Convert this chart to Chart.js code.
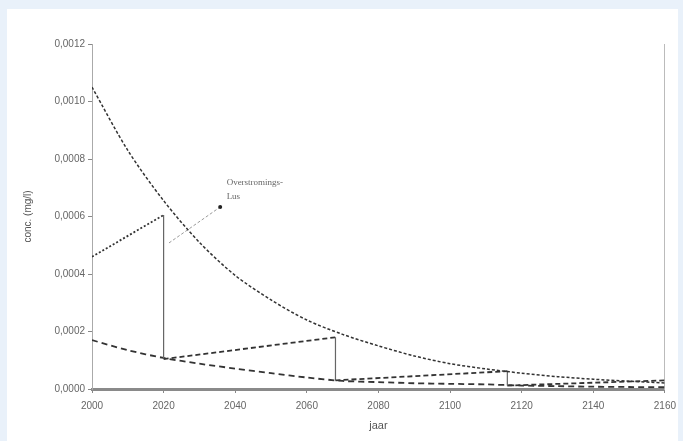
<!DOCTYPE html>
<html lang="nl">
<head>
  <meta charset="UTF-8">
  <title>Concentratie per jaar</title>
  <style>
    /* light blue page with a white card behind the chart */
    body {
      margin: 0;
      background: #e9f1fa;
      width: 683px;
      height: 441px;
      overflow: hidden;
      position: relative;
    }
    .card {
      position: absolute;
      left: 7px;
      top: 9px;
      width: 671px;
      height: 440px;
      background: #ffffff;
    }
    #concChart {
      position: absolute;
      left: 0;
      top: 0;
    }
  </style>
</head>
<body>
  <div class="card"></div>
  <canvas id="concChart" width="683" height="441"></canvas>

  <script src="https://cdn.jsdelivr.net/npm/chart.js"></script>
  <script>
    // upper decay curve
    const upperYears = [2000, 2010, 2020, 2030, 2040, 2050, 2060, 2070, 2080, 2090, 2100, 2110, 2120, 2130, 2140, 2150, 2160];
    const upperConc = [0.00105, 0.00083, 0.000655, 0.00051, 0.000395, 0.00031, 0.00024, 0.00019, 0.00015, 0.000115, 0.000088, 0.00007, 0.000055, 0.000043, 0.000034, 0.000027, 0.000021];

    // sawtooth (build-up and removal)
    const sawYears = [2000, 2020, 2020, 2068, 2068, 2116, 2116, 2160];
    const sawConc = [0.00046, 0.000605, 0.000104, 0.00018, 0.00003, 0.000062, 0.000012, 0.00003];

    // lower decay curve
    const lowerYears = [2000, 2010, 2020, 2030, 2040, 2050, 2060, 2070, 2080, 2090, 2100, 2110, 2120, 2130, 2140, 2150, 2160];
    const lowerConc = [0.00017, 0.000135, 0.000108, 0.000088, 0.000071, 0.000055, 0.00004, 0.000028, 0.000024, 0.00002, 0.000018, 0.000016, 0.000012, 0.00001, 0.000008, 0.000007, 0.000006];

    // annotation pointer (data units)
    const pointerYears = [2021.5, 2035.8];
    const pointerConc = [0.000508, 0.000633];
    const noteLines = ['Overstromings-', 'Lus'];
    const noteAt = { x: 2037.6, y: 0.000717, y2: 0.000668 };

    const toPoints = (xs, ys) => xs.map((x, i) => ({ x: x, y: ys[i] }));
    const fmt = v => v.toFixed(4).replace('.', ',');
    const font = { family: 'Liberation Sans', size: 10 };

    const notePlugin = {
      id: 'note',
      afterDatasetsDraw(chart) {
        const { ctx, scales } = chart;
        ctx.save();
        ctx.font = '9px "Liberation Serif"';
        ctx.fillStyle = '#666';
        ctx.textBaseline = 'middle';
        const x = scales.x.getPixelForValue(noteAt.x);
        ctx.fillText(noteLines[0], x, scales.y.getPixelForValue(noteAt.y));
        ctx.fillText(noteLines[1], x, scales.y.getPixelForValue(noteAt.y2));
        ctx.restore();
      }
    };

    new Chart(document.getElementById('concChart'), {
      type: 'line',
      data: {
        datasets: [
          {
            data: toPoints(upperYears, upperConc),
            borderColor: '#333',
            borderWidth: 1.5,
            borderDash: [3, 2],
            pointRadius: 0,
            tension: 0.3,
          },
          {
            data: toPoints(sawYears, sawConc),
            borderColor: '#333',
            borderWidth: 1.8,
            pointRadius: 0,
            segment: {
              borderDash: c => c.p0.parsed.x === c.p1.parsed.x ? [] : (c.p0DataIndex === 0 ? [2, 2] : [5, 3]),
              borderColor: c => c.p0.parsed.x === c.p1.parsed.x ? '#666' : '#333',
              borderWidth: c => c.p0.parsed.x === c.p1.parsed.x ? 1.2 : 1.8,
            },
          },
          {
            data: toPoints(lowerYears, lowerConc),
            borderColor: '#333',
            borderWidth: 1.8,
            borderDash: [6, 4],
            pointRadius: 0,
            tension: 0.3,
          },
          {
            data: toPoints(pointerYears, pointerConc),
            borderColor: '#999',
            borderWidth: 1,
            borderDash: [3, 2],
            pointRadius: [0, 2],
            pointBackgroundColor: '#222',
            pointBorderWidth: 0,
          },
        ],
      },
      options: {
        responsive: false,
        animation: false,
        layout: { padding: { left: 20, right: 16, top: 44, bottom: 0 } },
        plugins: {
          legend: { display: false },
          tooltip: { enabled: false },
        },
        scales: {
          x: {
            type: 'linear',
            min: 2000,
            max: 2160,
            afterFit: s => { s.height = 52; },
            ticks: { stepSize: 20, color: '#666', font: font, padding: 7, maxRotation: 0, callback: v => String(v) },
            grid: { drawOnChartArea: false, tickLength: 4, color: '#888' },
            border: { color: '#8a8a8a', width: 3 },
            title: { display: true, text: 'jaar', color: '#555', font: { family: 'Liberation Sans', size: 11 }, padding: { top: 2, bottom: 8 } },
          },
          y: {
            min: 0,
            max: 0.0012,
            afterFit: s => { s.width = 72; },
            ticks: { stepSize: 0.0002, color: '#666', font: font, padding: 3, callback: v => fmt(v) },
            grid: { drawOnChartArea: false, tickLength: 4, color: '#888' },
            border: { color: '#aaa', width: 1 },
            title: { display: true, text: 'conc. (mg/l)', color: '#555', font: font, padding: { top: 2, bottom: 2 } },
          },
          y2: {
            position: 'right',
            min: 0,
            max: 0.0012,
            afterFit: s => { s.width = 0; },
            ticks: { display: false },
            grid: { display: false },
            border: { color: '#bbb', width: 1 },
          },
        },
      },
      plugins: [notePlugin],
    });
  </script>
</body>
</html>
